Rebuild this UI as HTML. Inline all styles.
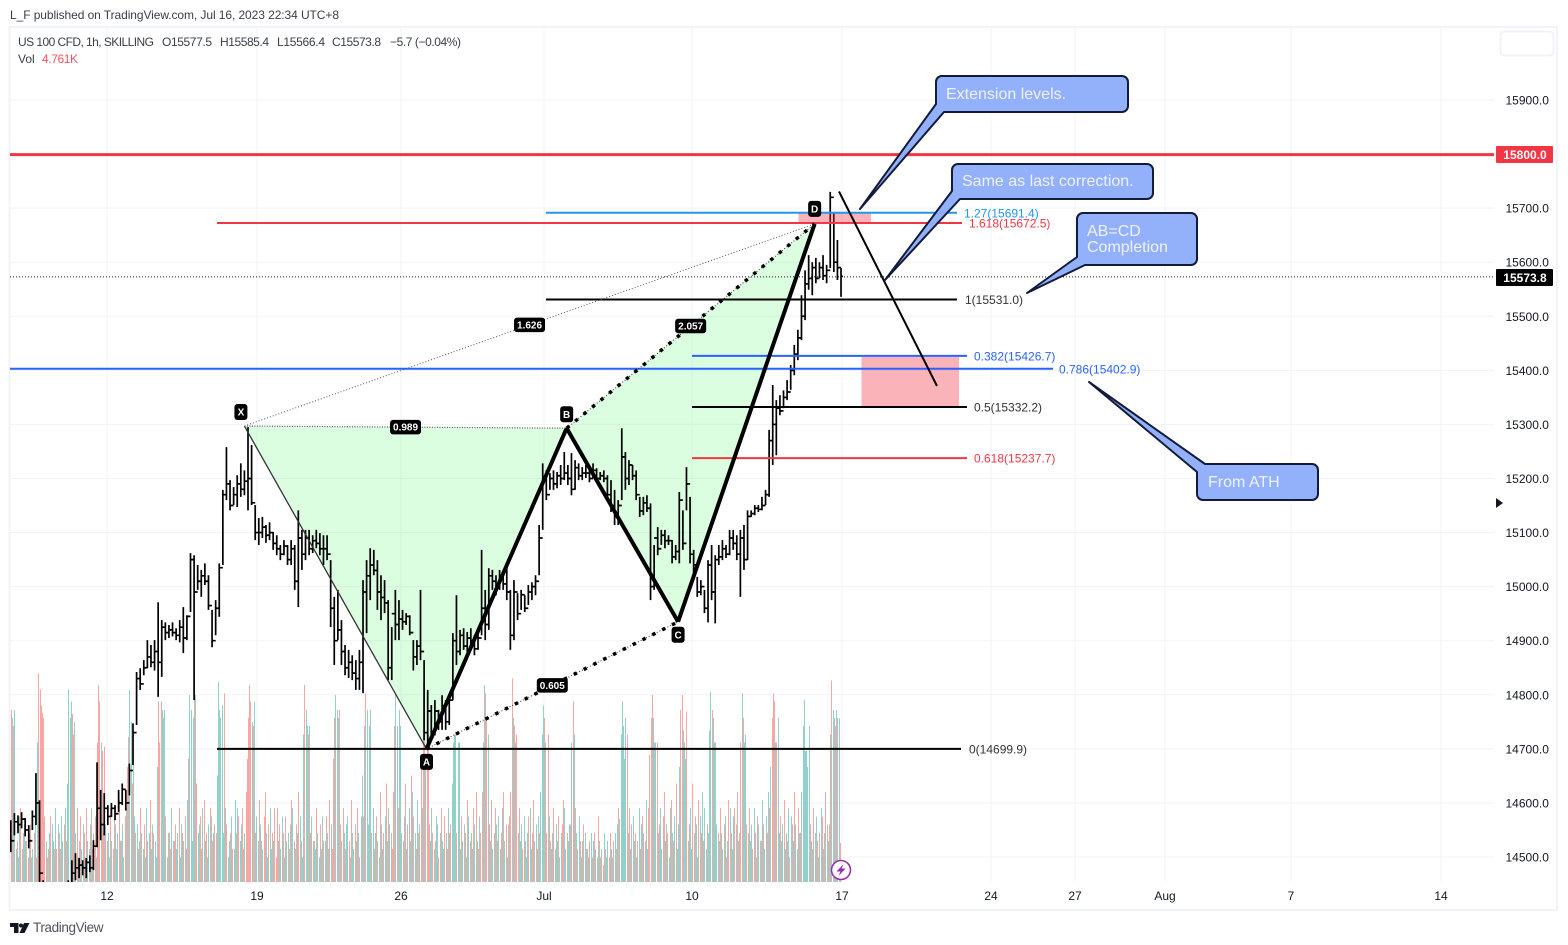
<!DOCTYPE html>
<html lang="en">
<head>
<meta charset="utf-8">
<title>US 100 CFD harmonic pattern chart</title>
<style>
html,body{margin:0;padding:0;background:#fff;width:1568px;height:945px;overflow:hidden}
svg{display:block;font-family:"Liberation Sans",sans-serif}
</style>
</head>
<body>
<svg id="chart" xmlns="http://www.w3.org/2000/svg" width="1568" height="945" viewBox="0 0 1568 945">
  <defs>
    <clipPath id="plot-clip"><rect x="10" y="28" width="1484" height="854"/></clipPath>
  </defs>
  <rect x="0" y="0" width="1568" height="945" fill="#ffffff"/>
  <text x="10" y="19" font-size="12" fill="#3a3e4a" textLength="329" lengthAdjust="spacing">L_F published on TradingView.com, Jul 16, 2023 22:34 UTC+8</text>
  <rect x="9.500" y="27" width="1547.500" height="883" fill="none" stroke="#f0f3fa" stroke-width="2"/>

  <g id="grid"></g>
  <g id="volume" clip-path="url(#plot-clip)"></g>

  <g id="pattern-fill" clip-path="url(#plot-clip)"></g>
  <g id="price" clip-path="url(#plot-clip)"></g>

  <rect x="798" y="213" width="73.500" height="10" fill="#f23645" fill-opacity="0.38" stroke="#ffffff" stroke-width="1"/>
  <rect x="861" y="356.500" width="98.500" height="51" fill="#f23645" fill-opacity="0.38" stroke="#ffffff" stroke-width="1"/>

  <g id="levels"></g>
  <g id="pattern-lines" clip-path="url(#plot-clip)"></g>

  <line id="resistance-line" x1="10" x2="1494" stroke="#f23645" stroke-width="3"/>
  <line id="last-price-line" x1="10" x2="1494" stroke="#131722" stroke-width="1" stroke-dasharray="1 2"/>
  <line x1="839" y1="191.500" x2="937" y2="386" stroke="#000000" stroke-width="2"/>

  <g id="pattern-labels"></g>

  <g font-size="16" fill="#eef2ff">
    <g>
      <path d="M941,76 H1122 a6,6 0 0 1 6,6 V106 a6,6 0 0 1 -6,6 H944 L860,209 L936,104 V82 a6,6 0 0 1 5,-6 Z" fill="#8fadfb" fill-opacity="0.96" stroke="#131b3a" stroke-width="2" stroke-linejoin="round"/>
      <text x="946" y="99">Extension levels.</text>
    </g>
    <g>
      <path d="M958,164 H1147 a6,6 0 0 1 6,6 V193 a6,6 0 0 1 -6,6 H960 L885,280 L952,191 V170 a6,6 0 0 1 6,-6 Z" fill="#8fadfb" fill-opacity="0.96" stroke="#131b3a" stroke-width="2" stroke-linejoin="round"/>
      <text x="962" y="186">Same as last correction.</text>
    </g>
    <g>
      <path d="M1083,213 H1191 a6,6 0 0 1 6,6 V259 a6,6 0 0 1 -6,6 H1085 L1027,293 L1077,257 V219 a6,6 0 0 1 6,-6 Z" fill="#8fadfb" fill-opacity="0.96" stroke="#131b3a" stroke-width="2" stroke-linejoin="round"/>
      <text x="1087" y="236">AB=CD</text>
      <text x="1087" y="252">Completion</text>
    </g>
    <g>
      <path d="M1205,464 H1312 a6,6 0 0 1 6,6 V494 a6,6 0 0 1 -6,6 H1203 a6,6 0 0 1 -6,-6 V472 L1089,382 Z" fill="#8fadfb" fill-opacity="0.96" stroke="#131b3a" stroke-width="2" stroke-linejoin="round"/>
      <text x="1208" y="487">From ATH</text>
    </g>
  </g>

  <g id="y-axis" font-size="12" fill="#131722"></g>
  <g id="x-axis" font-size="12" fill="#131722" text-anchor="middle"></g>

  <g>
    <rect x="1496" y="146" width="57" height="17" rx="1" fill="#f23645"/>
    <text x="1525" y="159" font-size="12" font-weight="bold" fill="#ffffff" text-anchor="middle">15800.0</text>
  </g>
  <g>
    <rect x="1496" y="269" width="57" height="17" rx="1" fill="#000000"/>
    <text x="1525" y="282" font-size="12" font-weight="bold" fill="#ffffff" text-anchor="middle">15573.8</text>
  </g>
  <rect x="1500.500" y="31.500" width="53" height="24" rx="4" fill="#ffffff" stroke="#f0f3fa" stroke-width="2"/>
  <polygon points="1496,498 1503,503 1496,508" fill="#131722"/>

  <g font-size="12" fill="#3a3e4a">
    <text x="18" y="46" textLength="136" lengthAdjust="spacing">US 100 CFD, 1h, SKILLING</text>
    <text x="162" y="46" textLength="50" lengthAdjust="spacing">O15577.5</text>
    <text x="220" y="46" textLength="49" lengthAdjust="spacing">H15585.4</text>
    <text x="277" y="46" textLength="48" lengthAdjust="spacing">L15566.4</text>
    <text x="332" y="46" textLength="49" lengthAdjust="spacing">C15573.8</text>
    <text x="390" y="46" textLength="71" lengthAdjust="spacing">−5.7 (−0.04%)</text>
    <text x="18" y="63">Vol</text>
    <text x="42" y="63" fill="#f7525f" textLength="36" lengthAdjust="spacing">4.761K</text>
  </g>

  <g>
    <circle cx="841" cy="870" r="9.500" fill="#ffffff" stroke="#9c27b0" stroke-width="1.500"/>
    <polygon points="843.500,864 836.500,871.500 840.500,871.500 838.500,876 845.500,868.500 841.500,868.500" fill="#9c27b0"/>
  </g>

  <g>
    <path d="M10,923 H18.500 V933 H14 V927 H10 Z" fill="#131722"/>
    <circle cx="21" cy="925.500" r="2" fill="#131722"/>
    <polygon points="24,923 29.500,923 24.500,933 19.500,933" fill="#131722"/>
    <text x="33" y="932" font-size="13.500" fill="#50535e" textLength="70.500" lengthAdjust="spacing">TradingView</text>
  </g>
</svg>

<script>
// ---- Chart data ----
const priceTicks = [15900,15800,15700,15600,15500,15400,15300,15200,15100,15000,14900,14800,14700,14600,14500];
const timeTicks = [
  ["12",107],["19",257],["26",401],["Jul",544],["10",692],["17",842],["24",991],["27",1075],["Aug",1165],["7",1291],["14",1441]
];
const resistancePrice = 15800;
const lastPrice = 15573.8;

// Volume in thousands. Positive = up bar (teal), negative = down bar (red).
const volumeK = [
-21,20,-19,21,4,-5,3,8,-9,4,-6,7,5,-5,-3,6,-7,3,4,-6,9,-3,
17,-25.4,-23.5,-21.5,-20.6,-20,-8,5,-3,-4,6,-8,7,5,-4,9,-4,7,-6,-4,8,5,-7,9,-5,
12,23.5,20,22,-20.5,-18,19.5,6,-9,3,-5,-8,4,7,-6,3,-9,5,4,-7,9,-4,6,-8,3,
-17,-24,-22,17,-16,-6,-16.5,7,-5,6,3,-9,5,-4,8,-7,4,6,-10,5,-5,7,3,-8,9,
-14,-17.7,23.4,19.5,-12,18,8,-6,7,-4,5,-9,6,4,-7,3,9,-5,6,-10,4,7,-6,5,3,
14,-22,-17,-22,21,20,21,-8,3,6,-6,-4,9,5,-5,-7,4,6,-9,3,7,-6,5,-8,-4,
10,-15,22.8,21,5,20,-26,22.8,-12,6,7,-8,-4,9,-10,5,-6,3,7,-9,8,-5,6,-7,-6,
13,24.4,21,20,21.5,6,-23,9,-7,3,5,-6,8,-4,4,10,-6,9,-8,5,7,-9,-4,6,-11,
-15,-20,-24,-22,19.5,-19,22,-6,8,5,-10,7,-5,4,-8,-11,6,3,-7,9,4,-6,5,-9,-3,
-9,5,-7,4,8,-6,3,-8,5,6,-4,7,-10,9,-5,4,-7,6,-11,8,-5,3,
18,-24,21,19,-18,19,-6,8,-5,5,4,-9,6,3,-7,4,8,-5,5,-8,6,4,-10,7,-4,
-15,-20,22.8,21,20,-21,-7,5,-9,6,-4,7,8,-5,3,-10,6,4,-7,5,-9,6,-3,8,
13,-8,19,-23,21,7,19,21,-6,9,-4,6,-8,5,3,-11,7,4,-6,8,-12,5,9,-7,6,-4,
-11,-19,23,19,-9,21,19,6,-5,8,-12,4,-7,9,5,-13,11,-8,6,-4,10,-6,7,-14,9,
-24.4,-22,15,-20,-18,-7,5,9,-6,4,-5,8,7,-3,6,-9,5,4,-8,6,-4,9,-6,
-7,12,17,18,18,-6,17,17,4,-8,5,7,-6,3,-10,8,-5,6,4,-9,7,-11,5,-4,8,-6,
-11,17,24,-23,-20,18,-7,5,-10,4,6,-9,7,-5,8,4,-6,9,-11,5,-7,3,7,-8,
-11,-24.8,20,-19,17,-18,6,-9,5,7,-4,8,-5,3,6,-8,9,4,-6,-10,5,7,-4,8,-6,
11,18,21.5,-20,17,-6,-18,8,-5,4,6,-9,-4,7,5,-8,3,6,-7,-10,9,4,-6,5,7,
-7,17,-22,18,-9,6,-4,8,-5,3,5,-7,6,-4,4,3,-5,6,-3,5,-6,4,3,-8,5,
-3,4,-2,6,-4,3,5,-3,-6,4,3,-5,6,-4,7,-9,
7.7,18,22,19,15,20,-18,6,-9,4,-7,8,5,-6,3,-5,9,-4,7,-8,6,-5,10,4,-9,
-15.5,-20,-22.8,20,17,17,-17,6,-7,9,4,-8,-11,5,7,-6,3,9,-10,6,-5,8,-12,4,7,
14,-21,-22.8,18.5,17,15,-20.8,5,-7,9,4,-12,6,-8,7,3,-10,8,-6,11,-5,9,4,-7,6,
18.5,23.2,-21,20,17,17,7,-6,5,-9,6,4,-7,8,-3,5,-10,9,-6,4,8,-9,7,-11,5,-6,
-17,23,-20,17,18,-7,6,-9,5,7,-4,9,-6,3,-8,7,5,-5,10,-7,4,8,-6,11,-9,
14,-20,-23,-22,17,-17,20,6,-8,5,7,-10,4,6,-5,9,-3,8,-7,5,-11,7,4,-9,6,-6,
11,19,22.2,16,16,14,19,-7,5,4,-9,6,8,-5,3,-6,9,-8,4,6,-11,7,5,-7,
18,-24.6,21,20,-19,21,-20,20,-4.761
];

// Price bars, one entry per three volume bars.
const barHigh = [
14568,14581,14577,14583,14572,14559,14586,14655,14605,14457,14411,14402,14411,14420,14429,14437,14457,14494,14507,14498,
14494,14498,14503,14531,14675,14624,14618,14596,14600,14596,14624,14636,14624,14673,14747,14842,14849,14864,14901,14892,
14901,14971,14938,14934,14929,14934,14923,14938,14962,14947,15062,15058,15040,15031,15043,15021,14957,14975,15043,15179,
15258,15197,15184,15206,15228,15215,15295,15262,15151,15127,15129,15114,15119,15101,15095,15077,15086,15077,15086,15077,
15141,15105,15105,15105,15095,15105,15099,15095,15095,15049,14981,14994,14938,14892,14883,14873,14864,14883,15012,15049,
15071,15068,15049,15021,15012,14975,14925,14994,14975,14957,14951,14947,14901,14901,14994,14864,14809,14781,14790,14772,
14799,14790,14799,14914,14984,14920,14923,14916,14923,14910,14920,15068,14994,15034,15031,15021,15031,15021,15036,14994,
15012,14988,14994,14984,15003,15008,15021,15114,15228,15215,15210,15215,15212,15225,15249,15225,15247,15234,15228,15221,
15225,15215,15228,15219,15212,15215,15206,15197,15179,15160,15293,15249,15234,15225,15215,15166,15166,15169,15154,15077,
15110,15105,15105,15095,15086,15077,15175,15141,15221,15166,15068,15018,15012,14994,15049,15077,15058,15077,15086,15077,
15105,15105,15095,15105,15114,15141,15141,15151,15151,15166,15179,15290,15373,15345,15354,15363,15382,15410,15447,15475,
15539,15585,15613,15600,15608,15600,15613,15595,15730,15691,15641,15589
];
const barLow = [
14509,14540,14544,14553,14538,14516,14550,14559,14439,14365,14365,14355,14365,14374,14383,14392,14411,14453,14457,14461,
14466,14461,14472,14476,14518,14531,14540,14559,14574,14568,14583,14596,14586,14614,14670,14744,14809,14836,14849,14851,
14845,14796,14833,14901,14905,14908,14901,14897,14877,14901,14953,14790,14994,14981,15003,14957,14888,14910,14944,15040,
15160,15141,15151,15147,15166,15169,15141,15151,15086,15077,15090,15081,15086,15068,15058,15049,15058,15040,15040,14994,
14962,15031,15049,15058,15062,15071,15058,15040,15049,14925,14855,14901,14855,14836,14831,14827,14809,14809,14803,14914,
14975,15021,14957,14938,14951,14827,14827,14901,14901,14920,14929,14910,14845,14855,14864,14716,14707,14716,14725,14735,
14735,14735,14744,14790,14855,14873,14883,14879,14883,14873,14883,14910,14901,14920,14994,14984,14994,14994,14975,14883,
14901,14938,14957,14953,14966,14975,14984,15021,15105,15160,15179,15179,15182,15188,15197,15188,15169,15179,15197,15197,
15201,15193,15201,15193,15197,15193,15160,15138,15114,15114,15160,15179,15188,15197,15160,15129,15132,15138,14975,14994,
15058,15077,15071,15077,15043,15049,15043,15068,15141,15043,15021,14981,14984,14951,14934,14975,14932,15040,15049,15053,
15058,15068,15049,14981,15031,15049,15129,15132,15138,15141,15151,15166,15225,15243,15317,15330,15345,15364,15391,15419,
15456,15493,15549,15539,15561,15571,15567,15561,15589,15582,15567,15536
];
const barClose = [
14530,14565,14560,14570,14550,14530,14575,14600,14470,14400,14380,14370,14390,14400,14405,14420,14440,14470,14480,14485,
14480,14490,14480,14520,14590,14560,14590,14575,14590,14580,14600,14625,14600,14660,14730,14830,14820,14850,14870,14860,
14880,14860,14925,14915,14920,14915,14910,14925,14905,14945,15050,14990,15010,15020,15010,14965,14900,14960,15035,15170,
15190,15150,15170,15190,15180,15195,15200,15155,15100,15100,15110,15095,15100,15080,15070,15060,15075,15050,15070,15010,
15090,15060,15090,15070,15085,15080,15070,15070,15060,14960,14900,14920,14880,14850,14860,14840,14830,14860,14990,15020,
15040,15030,14990,14980,14970,14850,14950,14930,14940,14935,14945,14915,14870,14890,14880,14730,14770,14730,14770,14750,
14780,14750,14790,14900,14880,14910,14890,14905,14900,14885,14905,14960,14930,15020,15010,15000,15020,15005,14990,14910,
14990,14950,14985,14960,14990,15000,15010,15090,15200,15170,15200,15190,15205,15200,15210,15200,15180,15220,15205,15210,
15210,15200,15215,15200,15205,15200,15170,15150,15130,15150,15240,15200,15225,15205,15170,15140,15155,15145,15000,15090,
15070,15095,15085,15085,15055,15065,15160,15080,15190,15060,15040,14990,15000,14960,15040,14990,15050,15055,15070,15060,
15090,15080,15060,15090,15050,15130,15135,15145,15143,15150,15170,15270,15300,15330,15325,15350,15360,15400,15430,15460,
15500,15560,15570,15590,15570,15590,15575,15585,15720,15600,15590,15573.8
];

// Harmonic pattern pivots: bar index and price.
const pivotNames = ["X","A","B","C","D"];
const pivotBars = [195,347,464,557,671];
const pivotPrices = [15297,14699.9,15293,14935,15671];
const ratioLabels = ["0.989","1.626","0.605","2.057"];

// Fibonacci levels.
const levelNames = ["1.27","1.618","1","0.382","0.786","0.5","0.618","0"];
const levelPrices = [15691.4,15672.5,15531.0,15426.7,15402.9,15332.2,15237.7,14699.9];
const levelColors = ["#2196f3","#f23645","#000000","#2962ff","#2962ff","#000000","#f23645","#000000"];

// ---- Axis functions ----
function yOf(price){ return 100 + (15900 - price) * 0.5407; }
function xOf(bar){ return 10.8 + bar * 1.198; }
function heightOfVolume(k){ return k * 8.2; }

const NS = "http://www.w3.org/2000/svg";
function mk(tag, attrs, parent){
  const el = document.createElementNS(NS, tag);
  for (const key in attrs) el.setAttribute(key, attrs[key]);
  parent.appendChild(el);
  return el;
}

// Grid and axes
const gridGroup = document.getElementById("grid");
const yAxisGroup = document.getElementById("y-axis");
const xAxisGroup = document.getElementById("x-axis");
priceTicks.forEach(function(p){
  const line = mk("line", {x1:10, x2:1494, y1:yOf(p), y2:yOf(p), stroke:"#f0f3fa", "stroke-width":1}, gridGroup);
  
  
  const label = mk("text", {x:1505.5, y:yOf(p)+4.500}, yAxisGroup);
  label.textContent = p.toFixed(1);
  
  
});
timeTicks.forEach(function(t){
  const line = mk("line", {x1:t[1], x2:t[1], y1:28, y2:882, stroke:"#f0f3fa", "stroke-width":1}, gridGroup);
  
  
  const label = mk("text", {x:t[1], y:900}, xAxisGroup);
  label.textContent = t[0];
  
  
});

// Volume bars
const volumeGroup = document.getElementById("volume");
volumeK.forEach(function(v, i){
  const h = heightOfVolume(Math.abs(v));
  const bar = mk("rect", {x:Math.round(xOf(i)), y:882-h, width:1, height:h, fill:v<0?"#f8a6a3":"#90d2ca", "shape-rendering":"crispEdges"}, volumeGroup);
  
  
});

// Price bars
const priceGroup = document.getElementById("price");
barHigh.forEach(function(high, i){
  const x = xOf(i*3);
  const open = i > 0 ? barClose[i-1] : barClose[i];
  const bar = mk("path", {
    d:"M"+x+","+yOf(high)+"V"+yOf(barLow[i])+"M"+(x-2)+","+yOf(open)+"H"+x+"M"+x+","+yOf(barClose[i])+"H"+(x+2),
    fill:"none", stroke:"#000000", "stroke-width":1.700
  }, priceGroup);
  
  
});

// Pattern geometry
const px = pivotBars.map(xOf);
const py = pivotPrices.map(yOf);
function ptStr(a){ return px[a]+","+py[a]; }
const fillGroup = document.getElementById("pattern-fill");
[[0,1,2],[2,3,4]].forEach(function(tri){
  const poly = mk("polygon", {points:tri.map(ptStr).join(" "), fill:"#4cf564", "fill-opacity":0.2}, fillGroup);
  
  
});
const lineGroup = document.getElementById("pattern-lines");
function seg(a, b, attrs, name){
  const l = mk("line", Object.assign({x1:px[a], y1:py[a], x2:px[b], y2:py[b], stroke:"#000000"}, attrs), lineGroup);
  
  
}
seg(0,1,{"stroke-width":1.300,stroke:"#333333"},"leg-xa");
seg(1,2,{"stroke-width":4},"leg-ab");
seg(2,3,{"stroke-width":4},"leg-bc");
seg(3,4,{"stroke-width":4},"leg-cd");
seg(0,2,{"stroke-width":1.200,"stroke-dasharray":"1 1.500",stroke:"#555555"},"ratio-line-xb");
seg(0,4,{"stroke-width":1,"stroke-dasharray":"1 2",stroke:"#555555"},"ratio-line-xd");
seg(1,3,{"stroke-width":1,"stroke-dasharray":"1 2",stroke:"#333333"},"ratio-line-ac-fine");
seg(1,3,{"stroke-width":3.500,"stroke-dasharray":"3.500 7.500"},"ratio-line-ac");
seg(2,4,{"stroke-width":1,"stroke-dasharray":"1 2",stroke:"#333333"},"ratio-line-bd-fine");
seg(2,4,{"stroke-width":3.500,"stroke-dasharray":"3.500 7.500"},"ratio-line-bd");

// Pattern labels
const labelGroup = document.getElementById("pattern-labels");
function badge(text, cx, cy, w, h, size, name){
  const g = mk("g", {}, labelGroup);
  
  
  mk("rect", {x:cx-w/2, y:cy-h/2, width:w, height:h, rx:3, fill:"#000000"}, g);
  const t = mk("text", {x:cx, y:cy+size*0.36, "font-size":size, "font-weight":"bold", fill:"#ffffff", "text-anchor":"middle"}, g);
  t.textContent = text;
}
const pivotOffsets = [[-3.5,-14],[0,13],[0,-14],[0,13],[0,-15]];
pivotNames.forEach(function(name, i){
  badge(name, px[i]+pivotOffsets[i][0], py[i]+pivotOffsets[i][1], 13, 16, 10, "pivot-label-"+name.toLowerCase());
});
function midBadge(text, a, b){
  badge(text, (px[a]+px[b])/2, (py[a]+py[b])/2, 31, 14.500, 10, "ratio-label");
}
midBadge(ratioLabels[0],0,2);
midBadge(ratioLabels[1],0,4);
midBadge(ratioLabels[2],1,3);
midBadge(ratioLabels[3],2,4);

// Fibonacci lines and labels
const levelGroup = document.getElementById("levels");
const levelStarts = [546,217,546,692,10,692,692,217];
const levelEnds = [957,962,957,967,1053,967,967,961];
const levelLabelX = [964,969,965,974,1059,974,974,969];
levelPrices.forEach(function(p, i){
  const line = mk("line", {x1:levelStarts[i], x2:levelEnds[i], y1:yOf(p), y2:yOf(p), stroke:levelColors[i], "stroke-width":2}, levelGroup);
  
  
  const label = mk("text", {x:levelLabelX[i], y:yOf(p)+4.500, "font-size":12, fill:levelColors[i]==="#000000"?"#333333":levelColors[i]}, levelGroup);
  label.textContent = levelNames[i]+"("+p.toFixed(1)+")";
  
  
});

// Horizontal reference lines
const resistance = document.getElementById("resistance-line");
resistance.setAttribute("y1", yOf(resistancePrice)+0.500);
resistance.setAttribute("y2", yOf(resistancePrice)+0.500);
const lastLine = document.getElementById("last-price-line");
lastLine.setAttribute("y1", yOf(lastPrice)+0.500);
lastLine.setAttribute("y2", yOf(lastPrice)+0.500);
</script>
</body>
</html>
